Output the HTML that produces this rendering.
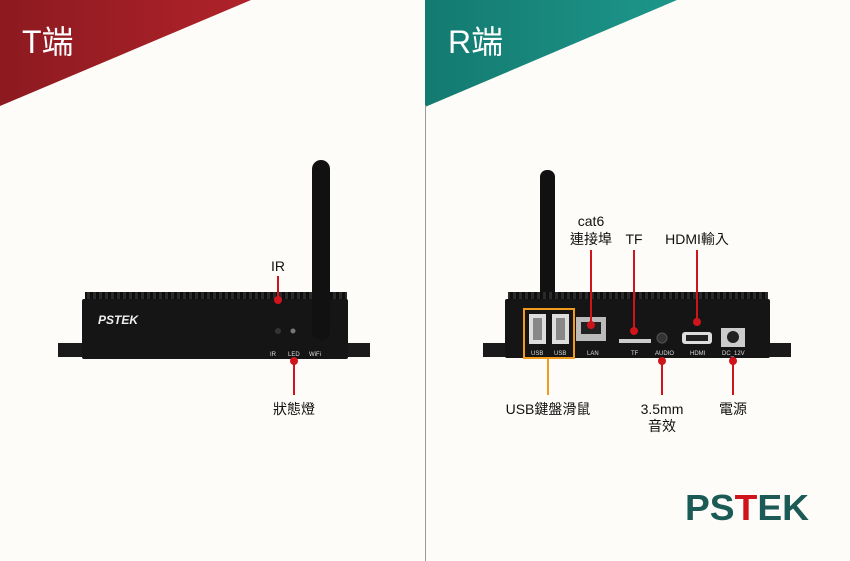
<!DOCTYPE html>
<html><head><meta charset="utf-8"><style>
body{margin:0;width:850px;height:561px;overflow:hidden;background:#fdfcf8;font-family:"Liberation Sans","Noto Sans CJK TC",sans-serif}
</style></head><body>
<svg width="850" height="561" viewBox="0 0 850 561" xmlns="http://www.w3.org/2000/svg" style="position:absolute;left:0;top:0">
<defs>
<linearGradient id="r" x1="0" x2="1"><stop offset="0" stop-color="#8c1a20"/><stop offset="1" stop-color="#b0222a"/></linearGradient>
<linearGradient id="g" x1="0" x2="1"><stop offset="0" stop-color="#137a70"/><stop offset="1" stop-color="#1e968a"/></linearGradient>
<pattern id="fin" width="6" height="10" patternUnits="userSpaceOnUse"><rect width="6" height="10" fill="#2a2a2a"/><rect width="3" height="10" fill="#0e0e0e"/></pattern>
</defs>
<polygon points="0,0 251,0 0,106" fill="url(#r)"/>
<polygon points="425,0 677,0 425,107" fill="url(#g)"/>
<line x1="425.5" y1="105" x2="425.5" y2="561" stroke="#999" stroke-width="1"/>
<text x="22" y="53" fill="#fff" font-size="32">T端</text>
<text x="448" y="53" fill="#fff" font-size="32">R端</text>

<!-- left device -->
<rect x="58" y="343" width="312" height="14" fill="#1a1a1a"/>
<rect x="85" y="292" width="262" height="8" fill="url(#fin)"/>
<rect x="82" y="299" width="266" height="60" rx="2" fill="#151515"/>
<text x="98" y="324" fill="#eee" font-size="12" font-weight="bold" font-style="italic">PSTEK</text>
<circle cx="278" cy="331" r="3" fill="#333"/>
<circle cx="293" cy="331" r="2.5" fill="#777"/>
<rect x="312" y="160" width="18" height="180" rx="9" fill="#111"/>
<text x="270" y="356" fill="#ddd" font-size="6">IR</text>
<text x="288" y="356" fill="#ddd" font-size="6">LED</text>
<text x="309" y="356" fill="#ddd" font-size="6">WiFi</text>
<text x="278" y="271" text-anchor="middle" font-size="14" fill="#111">IR</text>
<line x1="278" y1="276" x2="278" y2="300" stroke="#d0141c" stroke-width="2"/>
<circle cx="278" cy="300" r="4" fill="#d0141c"/>
<line x1="294" y1="361" x2="294" y2="395" stroke="#d0141c" stroke-width="2"/>
<circle cx="294" cy="361" r="4" fill="#d0141c"/>
<text x="294" y="414" text-anchor="middle" font-size="14" fill="#111">狀態燈</text>

<!-- right device -->
<rect x="483" y="343" width="308" height="14" fill="#1a1a1a"/>
<rect x="540" y="170" width="15" height="135" rx="7" fill="#111"/>
<rect x="508" y="292" width="260" height="8" fill="url(#fin)"/>
<rect x="505" y="299" width="265" height="59" rx="2" fill="#151515"/>
<rect x="529" y="314" width="17" height="30" fill="#ddd"/><rect x="533" y="318" width="9" height="22" fill="#888"/>
<rect x="552" y="314" width="17" height="30" fill="#ddd"/><rect x="556" y="318" width="9" height="22" fill="#888"/>
<rect x="524" y="309" width="50" height="49" fill="none" stroke="#f29a1c" stroke-width="2"/>
<rect x="576" y="317" width="30" height="24" fill="#bbb"/><rect x="581" y="322" width="20" height="12" fill="#222"/>
<rect x="619" y="339" width="32" height="4" fill="#ccc"/>
<circle cx="662" cy="338" r="5" fill="#333" stroke="#555"/>
<rect x="682" y="332" width="30" height="12" rx="3" fill="#ddd"/><rect x="686" y="335" width="22" height="6" fill="#222"/>
<rect x="721" y="328" width="24" height="19" fill="#ccc"/><circle cx="733" cy="337" r="6" fill="#222"/>
<g fill="#ddd" font-size="6"><text x="531" y="355">USB</text><text x="554" y="355">USB</text><text x="587" y="355">LAN</text><text x="631" y="355">TF</text><text x="655" y="355">AUDIO</text><text x="690" y="355">HDMI</text><text x="722" y="355">DC_12V</text></g>
<g font-size="14" fill="#111" text-anchor="middle">
<text x="591" y="226">cat6</text><text x="591" y="244">連接埠</text>
<text x="634" y="244">TF</text><text x="697" y="244">HDMI輸入</text>
<text x="548" y="414">USB鍵盤滑鼠</text>
<text x="662" y="414">3.5mm</text><text x="662" y="431">音效</text>
<text x="733" y="414">電源</text></g>
<g stroke="#d0141c" stroke-width="2"><line x1="591" y1="250" x2="591" y2="325"/><line x1="634" y1="250" x2="634" y2="331"/><line x1="697" y1="250" x2="697" y2="322"/><line x1="662" y1="361" x2="662" y2="395"/><line x1="733" y1="361" x2="733" y2="395"/></g>
<g fill="#d0141c"><circle cx="591" cy="325" r="4"/><circle cx="634" cy="331" r="4"/><circle cx="697" cy="322" r="4"/><circle cx="662" cy="361" r="4"/><circle cx="733" cy="361" r="4"/></g>
<line x1="548" y1="358" x2="548" y2="395" stroke="#f29a1c" stroke-width="2"/>

<!-- logo -->
<text x="685" y="520" font-size="36" font-weight="bold" fill="#1b5a55" textLength="124" lengthAdjust="spacingAndGlyphs">PS<tspan fill="#d0141c">T</tspan>EK</text>
</svg>
</body></html>
